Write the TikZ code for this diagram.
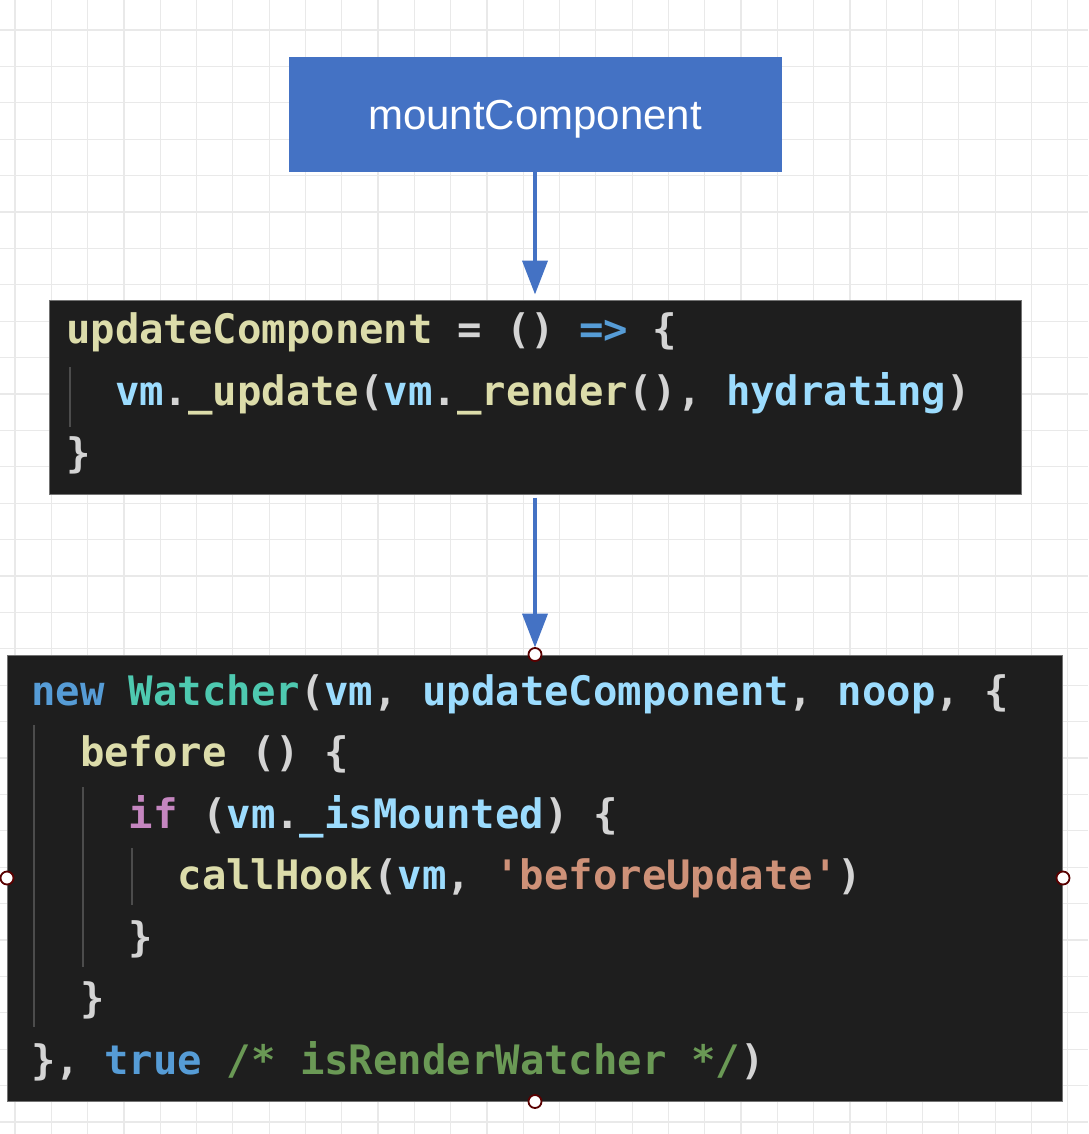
\documentclass[tikz,border=0pt]{standalone}
\usepackage{fontspec}
\usepackage{xcolor}
\usepackage{tikz}
\usetikzlibrary{arrows.meta,positioning}
\setmainfont{Liberation Sans}
\newfontfamily\codefont{DejaVu Sans Mono}
\definecolor{ublue}{HTML}{4472C4}
\definecolor{vsbg}{HTML}{1E1E1E}
\definecolor{vsfn}{HTML}{DCDCAA}
\definecolor{vsvar}{HTML}{9CDCFE}
\definecolor{vskw}{HTML}{569CD6}
\definecolor{vscls}{HTML}{4EC9B0}
\definecolor{vsctl}{HTML}{C586C0}
\definecolor{vsstr}{HTML}{CE9178}
\definecolor{vscmt}{HTML}{6A9955}
\definecolor{vspun}{HTML}{D4D4D4}
\definecolor{ugrid}{HTML}{E9E9E9}
\newcommand\tfn[1]{\textcolor{vsfn}{#1}}
\newcommand\tvar[1]{\textcolor{vsvar}{#1}}
\newcommand\tkw[1]{\textcolor{vskw}{#1}}
\newcommand\tcls[1]{\textcolor{vscls}{#1}}
\newcommand\tctl[1]{\textcolor{vsctl}{#1}}
\newcommand\tstr[1]{\textcolor{vsstr}{#1}}
\newcommand\tcmt[1]{\textcolor{vscmt}{#1}}
\tikzset{
  bluebox/.style ={rectangle, fill=ublue, text=white, inner sep=0pt, text depth=0pt,
                   font=\fontsize{42}{50}\selectfont},
  codebox/.style ={rectangle, fill=vsbg, draw=black!55, line width=1pt, inner sep=0pt},
  codeline/.style={anchor=base west, inner sep=0pt, text=vspun,
                   font=\codefont\bfseries\fontsize{40.6}{61}\selectfont\frenchspacing},
  flow/.style    ={-{Triangle[width=25pt,length=34pt]}, draw=ublue, line width=4pt},
  gridline/.style={draw=ugrid, line width=1.2pt},
  guide/.style   ={draw=black!70, line width=1.5pt},
  handle/.style  ={circle, fill=white, draw=red!35!black, line width=1.8pt,
                   minimum size=13pt, inner sep=0pt}
}

\begin{document}
\begin{tikzpicture}[x=1pt, y=-1pt]
\useasboundingbox (0,0) rectangle (1088,1134);
% background grid
\fill[white] (0,0) rectangle (1088,1134);
\foreach \i in {0,...,29} \draw[gridline] (15+36.3*\i,0) -- (15+36.3*\i,1134);
\foreach \j in {0,...,30} \draw[gridline] (0,30+36.4*\j) -- (1088,30+36.4*\j);

\node[bluebox, minimum width=493pt, minimum height=115pt] (mount) at (535,114.5) {mountComponent};
\node[codebox, minimum width=972pt, minimum height=194pt] (upd) at (535,397) {};
\node[codebox, minimum width=1055pt, minimum height=446pt] (watch) at (535,878) {};

\draw[flow, shorten >=5pt] (mount) -- (upd);
\draw[flow, shorten <=3pt, shorten >=7pt] (upd) -- (watch);

% updateComponent
\draw[guide] (70,367) -- (70,427);
\node[codeline] (u1) at (66,343) {\tfn{updateComponent} = () \tkw{=>} \{};
\node[codeline] (u2) at (114.8,405) {\tvar{vm}.\tfn{\_update}(\tvar{vm}.\tfn{\_render}(), \tvar{hydrating})};
\node[codeline] (u3) at (66,467) {\}};

% new Watcher
\draw[guide] (34,725) -- (34,1027);
\draw[guide] (83,787) -- (83,967);
\draw[guide] (132,848) -- (132,905);
\node[codeline] (w1) at (31,705) {\tkw{new} \tcls{Watcher}(\tvar{vm}, \tvar{updateComponent}, \tvar{noop}, \{};
\node[codeline] (w2) at (79.8,766.5) {\tfn{before} () \{};
\node[codeline] (w3) at (128.6,828) {\tctl{if} (\tvar{vm}.\tvar{\_isMounted}) \{};
\node[codeline] (w4) at (177.4,889.5) {\tfn{callHook}(\tvar{vm}, \tstr{\textquotesingle beforeUpdate\textquotesingle})};
\node[codeline] (w5) at (128.6,951) {\}};
\node[codeline] (w6) at (79.8,1012.5) {\}};
\node[codeline] (w7) at (31,1074) {\}, \tkw{true} \tcmt{/* isRenderWatcher */})};

% selection handles
\foreach \a in {north,west,east,south} \node[handle] at (watch.\a) {};
\end{tikzpicture}
\end{document}
